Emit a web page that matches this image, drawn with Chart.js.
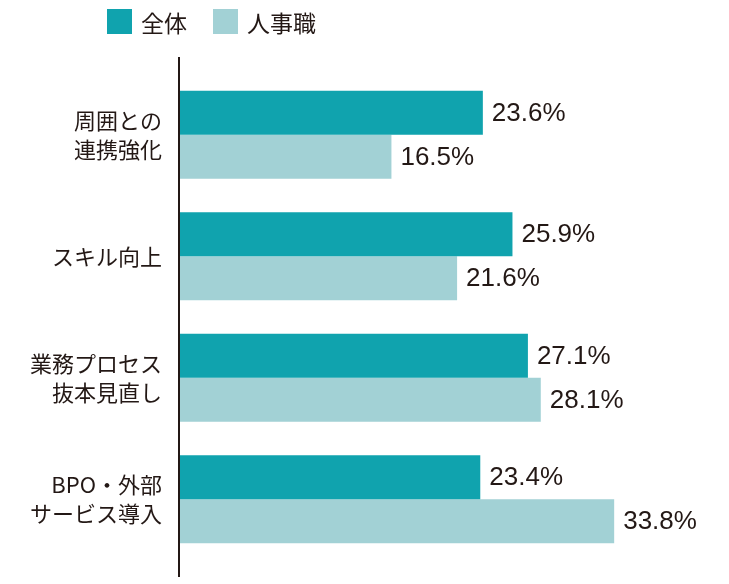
<!DOCTYPE html>
<html>
<head>
<meta charset="utf-8">
<script src="https://cdn.jsdelivr.net/npm/chart.js@4/dist/chart.umd.min.js"></script>
<style>
  html, body { margin: 0; padding: 0; background: #ffffff; }
  #wrap { position: relative; width: 729px; height: 584px; }
  #c { position: absolute; left: 0; top: 0; }
  .leg { position: absolute; top: 9px; height: 25px; display: flex; align-items: center;
         font-family: "Noto Sans CJK JP", "Noto Sans", sans-serif; font-size: 23px; color: #231815; }
  .leg span.box { display: inline-block; width: 25px; height: 25px; margin-right: 9px; }
</style>
</head>
<body>
<div id="wrap">
  <canvas id="c" width="729" height="584"></canvas>
  <div class="leg" id="leg0" style="left:107px;"><span class="box"></span><span class="t"></span></div>
  <div class="leg" id="leg1" style="left:213px;"><span class="box"></span><span class="t"></span></div>
</div>
<script>
const categories = [
  ["周囲との", "連携強化"],
  ["スキル向上"],
  ["業務プロセス", "抜本見直し"],
  ["BPO・外部", "サービス導入"]
];
const seriesNames = ["全体", "人事職"];
const seriesAll = [23.6, 25.9, 27.1, 23.4];
const seriesHR = [16.5, 21.6, 28.1, 33.8];
const seriesColors = ["#10A3AE", "#A2D1D5"];

// HTML legend
seriesNames.forEach((n, i) => {
  const el = document.getElementById('leg' + i);
  el.querySelector('.box').style.background = seriesColors[i];
  el.querySelector('.t').textContent = n;
});

const textColor = "#231815";

const valueLabels = {
  id: 'valueLabels',
  afterDatasetsDraw(chart) {
    const ctx = chart.ctx;
    ctx.save();
    ctx.font = '26px "Liberation Sans", Arial, sans-serif';
    ctx.fillStyle = textColor;
    ctx.textBaseline = 'middle';
    ctx.textAlign = 'left';
    chart.data.datasets.forEach((ds, di) => {
      const meta = chart.getDatasetMeta(di);
      meta.data.forEach((bar, i) => {
        ctx.fillText(ds.data[i].toFixed(1) + '%', bar.x + 9, bar.y + 1);
      });
    });
    ctx.restore();
  }
};

const axisLine = {
  id: 'axisLine',
  afterDatasetsDraw(chart) {
    const ctx = chart.ctx;
    const x = chart.scales.x.getPixelForValue(0);
    const a = chart.chartArea;
    ctx.save();
    ctx.strokeStyle = textColor;
    ctx.lineWidth = 2;
    ctx.beginPath();
    ctx.moveTo(x, a.top - 17);
    ctx.lineTo(x, a.bottom + 17);
    ctx.stroke();
    ctx.restore();
  }
};

new Chart(document.getElementById('c'), {
  type: 'bar',
  data: {
    labels: categories,
    datasets: [
      { label: seriesNames[0], data: seriesAll, backgroundColor: seriesColors[0], borderWidth: 0,
        barPercentage: 1.0, categoryPercentage: 0.724 },
      { label: seriesNames[1], data: seriesHR, backgroundColor: seriesColors[1], borderWidth: 0,
        barPercentage: 1.0, categoryPercentage: 0.724 }
    ]
  },
  options: {
    indexAxis: 'y',
    responsive: false,
    animation: false,
    devicePixelRatio: 1,
    layout: { padding: { left: 0, top: 74, bottom: 24, right: 35 } },
    plugins: {
      legend: { display: false },
      tooltip: { enabled: false }
    },
    scales: {
      x: {
        display: false,
        min: 0,
        max: 40
      },
      y: {
        grid: { display: false, drawTicks: false },
        border: { display: false },
        afterFit(scale) {
          scale.width = 179;
          scale.paddingTop = 0;
          scale.paddingBottom = 0;
        },
        ticks: {
          color: textColor,
          padding: 17,
          font: { family: '"Noto Sans CJK JP", "Noto Sans", sans-serif', size: 22, lineHeight: 1.32 }
        }
      }
    }
  },
  plugins: [valueLabels, axisLine]
});
</script>
</body>
</html>
